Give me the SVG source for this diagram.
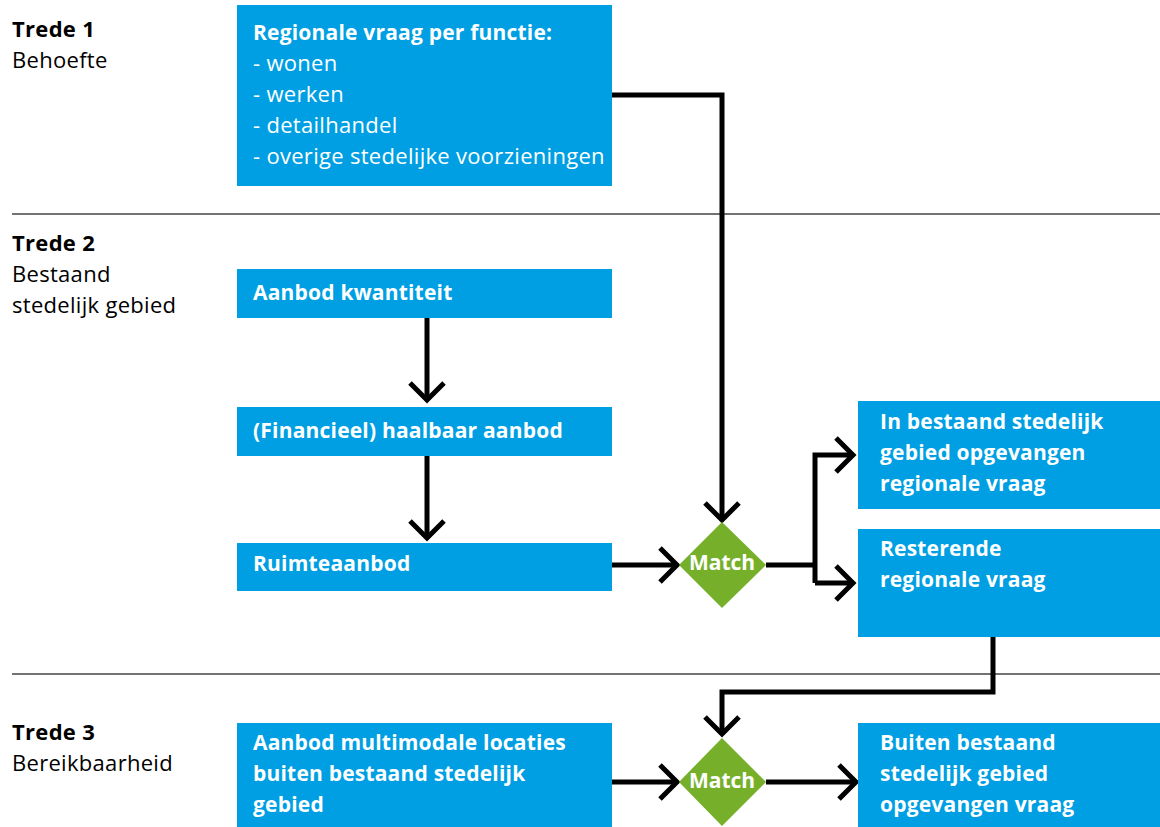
<svg xmlns="http://www.w3.org/2000/svg" width="1160" height="827" viewBox="0 0 1160 827">
<defs>
<style>
.box{fill:#009fe3}
.dia{fill:#76b02b}
.bt{font-family:"Open Sans","Noto Sans",sans-serif;font-size:22px;letter-spacing:0.3px;fill:#fff}
.b{font-weight:bold;font-size:21px;letter-spacing:0.2px}
.lbl{font-family:"Open Sans","Noto Sans",sans-serif;font-size:22px;letter-spacing:0.3px;fill:#000}
.sep{stroke:#444;stroke-width:1.5}
.con{fill:none;stroke:#000;stroke-width:5}
.mt{font-family:"Open Sans","Noto Sans",sans-serif;font-size:21px;fill:#fff;font-weight:bold;text-anchor:middle}
</style>
<marker id="ah" markerWidth="30" markerHeight="40" viewBox="-22 -20 26 40" refX="0" refY="0" orient="auto" markerUnits="userSpaceOnUse">
<path d="M-17,-17 L0,0 L-17,17" fill="none" stroke="#000" stroke-width="5"/>
</marker>
</defs>
<rect width="1160" height="827" fill="#fff"/>
<g id="labels">
<text class="lbl b" x="12" y="37">Trede 1</text>
<text class="lbl" x="12" y="68">Behoefte</text>
<text class="lbl b" x="12" y="251">Trede 2</text>
<text class="lbl" x="12" y="282">Bestaand</text>
<text class="lbl" x="12" y="313">stedelijk gebied</text>
<text class="lbl b" x="12" y="740">Trede 3</text>
<text class="lbl" x="12" y="771">Bereikbaarheid</text>
</g>
<g id="separators">
<line class="sep" x1="12" y1="214" x2="1160" y2="214"/>
<line class="sep" x1="12" y1="674" x2="1160" y2="674"/>
</g>
<g id="connectors">
<path class="con" d="M612,95 H722 V520" marker-end="url(#ah)"/>
<path class="con" d="M427,318 V400" marker-end="url(#ah)"/>
<path class="con" d="M427,456 V538" marker-end="url(#ah)"/>
<path class="con" d="M612,565 H677" marker-end="url(#ah)"/>
<path class="con" d="M766,565 H815"/>
<path class="con" d="M815,583 V455 H853" marker-end="url(#ah)"/>
<path class="con" d="M815,583 H853" marker-end="url(#ah)"/>
<path class="con" d="M993,637 V692 H722 V734" marker-end="url(#ah)"/>
<path class="con" d="M612,782 H677" marker-end="url(#ah)"/>
<path class="con" d="M766,782 H856" marker-end="url(#ah)"/>
</g>
<g id="n-regionale-vraag">
<rect class="box" x="237" y="5" width="375" height="181"/>
<text class="bt b" x="253" y="40">Regionale vraag per functie:</text>
<text class="bt" x="253" y="71">- wonen</text>
<text class="bt" x="253" y="102">- werken</text>
<text class="bt" x="253" y="133">- detailhandel</text>
<text class="bt" x="253" y="164">- overige stedelijke voorzieningen</text>
</g>
<g id="n-aanbod-kwantiteit">
<rect class="box" x="237" y="269" width="375" height="49"/>
<text class="bt b" x="253" y="300">Aanbod kwantiteit</text>
</g>
<g id="n-haalbaar-aanbod">
<rect class="box" x="237" y="407" width="375" height="49"/>
<text class="bt b" x="253" y="438">(Financieel) haalbaar aanbod</text>
</g>
<g id="n-ruimteaanbod">
<rect class="box" x="237" y="543" width="375" height="48"/>
<text class="bt b" x="253" y="571">Ruimteaanbod</text>
</g>
<g id="n-match-1">
<polygon class="dia" points="722,522 766,565 722,608 679,565"/>
<text class="mt" x="722" y="570">Match</text>
</g>
<g id="n-opgevangen">
<rect class="box" x="858" y="401" width="302" height="108"/>
<text class="bt b" x="880" y="429">In bestaand stedelijk</text>
<text class="bt b" x="880" y="460">gebied opgevangen</text>
<text class="bt b" x="880" y="491">regionale vraag</text>
</g>
<g id="n-resterende">
<rect class="box" x="858" y="529" width="302" height="108"/>
<text class="bt b" x="880" y="556">Resterende</text>
<text class="bt b" x="880" y="587">regionale vraag</text>
</g>
<g id="n-multimodaal">
<rect class="box" x="237" y="723" width="375" height="104"/>
<text class="bt b" x="253" y="750">Aanbod multimodale locaties</text>
<text class="bt b" x="253" y="781">buiten bestaand stedelijk</text>
<text class="bt b" x="253" y="812">gebied</text>
</g>
<g id="n-match-2">
<polygon class="dia" points="722,738 766,782 722,826 679,782"/>
<text class="mt" x="722" y="788">Match</text>
</g>
<g id="n-buiten">
<rect class="box" x="858" y="723" width="302" height="104"/>
<text class="bt b" x="880" y="750">Buiten bestaand</text>
<text class="bt b" x="880" y="781">stedelijk gebied</text>
<text class="bt b" x="880" y="812">opgevangen vraag</text>
</g>
</svg>
